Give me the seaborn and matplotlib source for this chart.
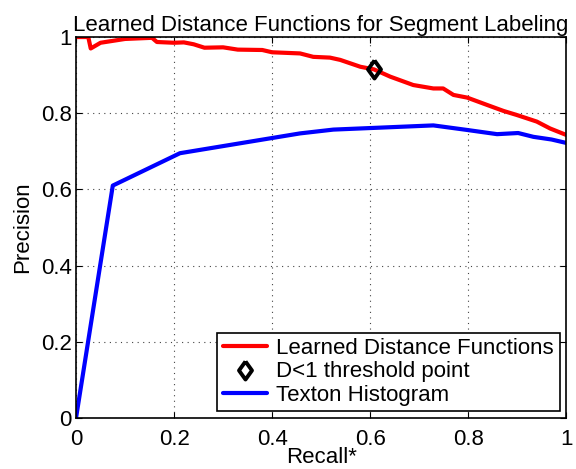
import numpy as np
import pandas as pd
import matplotlib
matplotlib.use('Agg')
import matplotlib.pyplot as plt
import seaborn as sns
from matplotlib.ticker import FuncFormatter

sns.set_style('ticks')
plt.rcParams['font.family'] = ['Liberation Sans', 'DejaVu Sans']
plt.rcParams['text.color'] = 'black'
plt.rcParams['axes.labelcolor'] = 'black'
plt.rcParams['xtick.color'] = 'black'
plt.rcParams['ytick.color'] = 'black'

# Learned distance functions curve
learned_recall = [0.0, 0.025, 0.03, 0.05, 0.1, 0.155, 0.165, 0.2, 0.22, 0.24, 0.262, 0.3, 0.33,
                  0.38, 0.40, 0.457, 0.484, 0.518, 0.539, 0.58, 0.608, 0.641, 0.688, 0.729,
                  0.749, 0.77, 0.798, 0.838, 0.872, 0.9, 0.94, 0.967, 1.0]
learned_prec = [1.0, 1.0, 0.970, 0.985, 0.995, 0.998, 0.987, 0.985, 0.986, 0.981, 0.972, 0.973, 0.967,
                0.966, 0.960, 0.957, 0.948, 0.946, 0.940, 0.922, 0.915, 0.896, 0.874, 0.865,
                0.865, 0.848, 0.841, 0.822, 0.806, 0.795, 0.778, 0.760, 0.743]

# Texton histogram curve
texton_recall = [0.0, 0.075, 0.212, 0.457, 0.525, 0.729, 0.798, 0.859, 0.902, 0.933, 0.97, 1.0]
texton_prec = [0.0, 0.61, 0.695, 0.747, 0.757, 0.768, 0.756, 0.745, 0.748, 0.738, 0.731, 0.722]

# threshold point
thresh_recall = [0.608]
thresh_prec = [0.915]

df_learned = pd.DataFrame({'Recall': learned_recall, 'Precision': learned_prec})
df_texton = pd.DataFrame({'Recall': texton_recall, 'Precision': texton_prec})

# matlab-ish diamond, a bit taller than wide
diamond = [(0, 1), (0.72, 0), (0, -1), (-0.72, 0), (0, 1)]

fig = plt.figure(figsize=(5.76, 4.69), dpi=100)
ax = fig.add_axes([0.132, 0.109, 0.851, 0.812])

sns.lineplot(data=df_learned, x='Recall', y='Precision', color='#ff0000', lw=3,
             sort=False, estimator=None, ax=ax, label='Learned Distance Functions')
ax.plot(thresh_recall, thresh_prec, linestyle='none', marker=diamond, markersize=13,
        markerfacecolor='none', markeredgecolor='black', markeredgewidth=2.8,
        label='D<1 threshold point')
sns.lineplot(data=df_texton, x='Recall', y='Precision', color='#0000ff', lw=3,
             sort=False, estimator=None, ax=ax, label='Texton Histogram')

ax.set_xlim(0, 1)
ax.set_ylim(0, 1)
ticks = [0, 0.2, 0.4, 0.6, 0.8, 1]
ax.set_xticks(ticks)
ax.set_yticks(ticks)
fmt = FuncFormatter(lambda v, p: '%g' % v)
ax.xaxis.set_major_formatter(fmt)
ax.yaxis.set_major_formatter(fmt)
ax.tick_params(direction='in', top=True, right=True, labelsize=16, length=4, width=0.8, pad=3)
ax.tick_params(axis='x', pad=8)
ax.grid(True, linestyle=(0, (1, 4)), color='#444444', linewidth=0.8)

for s in ax.spines.values():
    s.set_linewidth(1.2)
    s.set_color('black')

ax.set_xlabel('Recall*', fontsize=16, labelpad=-2)
ax.set_ylabel('Precision', fontsize=16, labelpad=6)
ax.set_title('Learned Distance Functions for Segment Labeling', fontsize=16, pad=4)

leg = ax.legend(loc='lower right', fontsize=16, frameon=True, fancybox=False,
                edgecolor='black', framealpha=1, borderaxespad=0.3,
                handlelength=2.0, handletextpad=0.4, labelspacing=0.1, borderpad=0.25)
leg.get_frame().set_linewidth(1.2)

fig.savefig('out.png', dpi=100)
